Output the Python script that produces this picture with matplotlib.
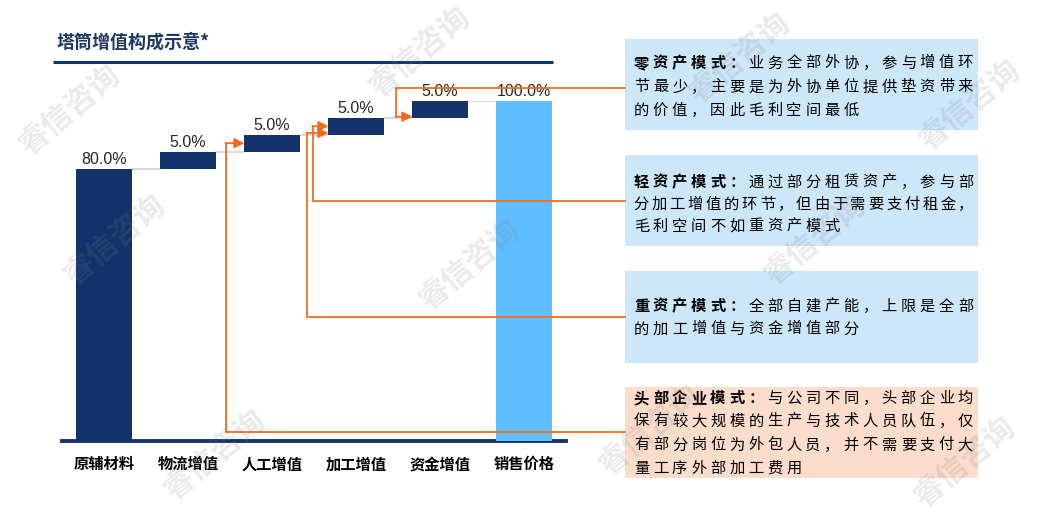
import matplotlib
matplotlib.use('Agg')
import matplotlib.pyplot as plt
from matplotlib.patches import Rectangle

plt.rcParams['font.family'] = ['Noto Sans CJK SC', 'DejaVu Sans']

# ---- data ----
categories = ['原辅材料', '物流增值', '人工增值', '加工增值', '资金增值', '销售价格']
values = [80.0, 5.0, 5.0, 5.0, 5.0, 100.0]
is_total = [True, False, False, False, False, True]

title = '塔筒增值构成示意*'

box_lines = [
    ['零资产模式：业务全部外协，参与增值环', '节最少，主要是为外协单位提供垫资带来', '的价值，因此毛利空间最低'],
    ['轻资产模式：通过部分租赁资产，参与部', '分加工增值的环节，但由于需要支付租金，', '毛利空间不如重资产模式'],
    ['重资产模式：全部自建产能，上限是全部', '的加工增值与资金增值部分'],
    ['头部企业模式：与公司不同，头部企业均', '保有较大规模的生产与技术人员队伍，仅',
     '有部分岗位为外包人员，并不需要支付大', '量工序外部加工费用'],
]
bold_chars = [6, 6, 6, 7]
# bar each callout points at, and the level (in %) where the arrow lands
callout_bar = [4, 3, 3, 2]
callout_level = [95.4, 92.6, 90.6, 87.6]

# ---- layout (pixels) ----
W, H = 1040, 519
NAVY = '#14336A'
SKY = '#5EBEFF'
ORANGE = '#F26B21'
box_y = [(39, 130), (155, 246), (271, 363), (387, 478)]
box_colors = ['#CCE6FA', '#CCE6FA', '#CCE6FA', '#FCDCCB']
line_y = [[63, 87, 110], [182, 204, 226], [306, 329], [398, 421, 445, 468]]
callout_y = [88, 201, 317, 432]
elbow_x = [396, 313, 307, 226]
BOX_L, BOX_R = 625, 978
TXT_L, TXT_R = 632, 975

fig = plt.figure(figsize=(W / 100, H / 100), dpi=100)

ax = fig.add_axes([62 / W, 1 - 441 / H, (566 - 62) / W, (441 - 101) / H])
ax.set_xlim(-0.5, len(categories) - 0.5)
ax.set_ylim(0, 100)

width = 0.655
bottoms = []
run = 0.0
for v, tot in zip(values, is_total):
    if tot:
        bottoms.append(0.0)
        run = v
    else:
        bottoms.append(run)
        run += v

colors = [NAVY] * (len(values) - 1) + [SKY]
xs = list(range(len(categories)))
ax.bar(xs, values, width=width, bottom=bottoms, color=colors, zorder=3)

for x, v, b in zip(xs, values, bottoms):
    ax.annotate(f'{v:.1f}%', (x, b + v), xytext=(0, 1.5), textcoords='offset points',
                ha='center', va='bottom', fontsize=11.5, color='#262626',
                family=['Liberation Sans', 'DejaVu Sans'])

# connectors between bars
for i in range(len(values) - 1):
    lvl = bottoms[i] + values[i]
    ax.plot([i + width / 2, i + 1 - width / 2], [lvl, lvl], color='#D6D6D6', lw=1.3, zorder=2)

for s in ['top', 'right', 'left']:
    ax.spines[s].set_visible(False)
ax.spines['bottom'].set_color(NAVY)
ax.spines['bottom'].set_linewidth(2.8)
ax.set_yticks([])
ax.set_xticks(xs, categories, fontsize=11, fontweight='bold', color='black')
ax.tick_params(axis='x', length=0, pad=11)

# overlay in pixel coordinates
ov = fig.add_axes([0, 0, 1, 1], zorder=5)
ov.set_xlim(0, W)
ov.set_ylim(H, 0)
ov.axis('off')
ov.patch.set_alpha(0)


def to_px(x, y):
    dx, dy = ax.transData.transform((x, y))
    return dx, H - dy


# title
ov.text(56, 42, title, fontsize=13, fontweight='bold', color='#1F3864', va='center', ha='left')
ov.plot([53, 553], [62, 62], color=NAVY, lw=2.2, solid_capstyle='butt')

# text boxes
for (y0, y1), col, lines, ys, nb in zip(box_y, box_colors, box_lines, line_y, bold_chars):
    ov.add_patch(Rectangle((BOX_L, y0), BOX_R - BOX_L, y1 - y0, facecolor=col, edgecolor='none'))
    k = 0
    for li, (line, y) in enumerate(zip(lines, ys)):
        full = li < len(lines) - 1
        pitch = (TXT_R - TXT_L) / len(line) if full else (TXT_R - TXT_L) / 18
        for ci, ch in enumerate(line):
            bold = k < nb
            ov.text(TXT_L + pitch * (ci + 0.5), y, ch, fontsize=11, ha='center', va='center',
                    color='black', fontweight='bold' if bold else 'normal')
            k += 1

# orange callout lines
for cy, ex, bi, lvl in zip(callout_y, elbow_x, callout_bar, callout_level):
    tx, ty = to_px(bi - width / 2, lvl)
    ov.plot([BOX_L, ex, ex], [cy, cy, ty], color=ORANGE, lw=1.3, solid_joinstyle='miter')
    ov.annotate('', xy=(tx, ty), xytext=(ex - 0.6, ty),
                arrowprops=dict(arrowstyle='-|>,head_length=0.6,head_width=0.3',
                                color=ORANGE, lw=1.3, shrinkA=0, shrinkB=0))

# watermark
wm = [(70, 110), (420, 52), (740, 58), (970, 105), (115, 240), (470, 265),
      (815, 240), (215, 455), (650, 430), (965, 462)]
for x, y in wm:
    ov.text(x, y, '睿信咨询', fontsize=22, fontweight='bold', color='#808080', alpha=0.16,
            rotation=40, ha='center', va='center', zorder=10)

fig.savefig('out.png', dpi=100)
